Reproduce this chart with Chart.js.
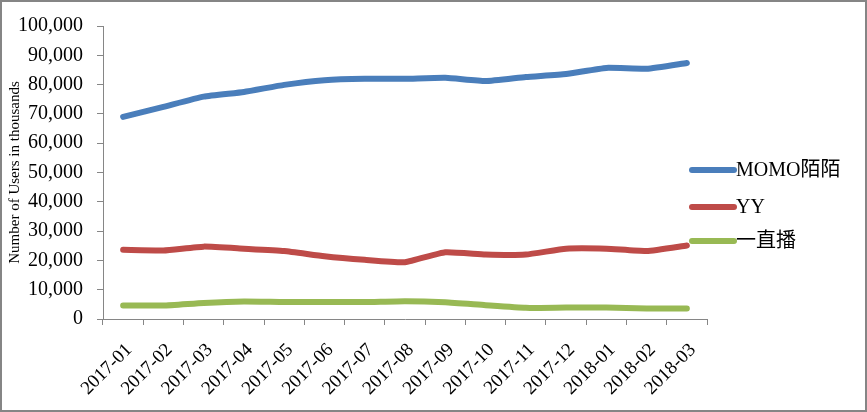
<!DOCTYPE html>
<html>
<head>
<meta charset="utf-8">
<script src="https://cdn.jsdelivr.net/npm/chart.js@4"></script>
<style>
  body { margin: 0; background: #fff; }
  #wrap { position: relative; width: 867px; height: 412px; }
  #frame { position: absolute; left: 0; top: 0; width: 867px; height: 412px; box-sizing: border-box; border: 2px solid #858585; pointer-events: none; }
</style>
</head>
<body>
<div id="wrap">
  <canvas id="usersChart" width="867" height="412"></canvas>
  <div id="frame"></div>
</div>
<script>
const months = ["2017-01", "2017-02", "2017-03", "2017-04", "2017-05", "2017-06", "2017-07", "2017-08",
                "2017-09", "2017-10", "2017-11", "2017-12", "2018-01", "2018-02", "2018-03"];
const momo = [69000, 72400, 75900, 77500, 79900, 81500, 82000, 82000, 82300, 81200, 82600, 83600, 85700, 85400, 87400];
const yy = [23600, 23400, 24700, 24000, 23200, 21400, 20200, 19400, 22800, 22000, 22000, 24000, 24000, 23200, 25100];
const yizhibo = [4600, 4600, 5500, 6000, 5800, 5800, 5800, 6100, 5700, 4700, 3800, 3900, 3900, 3600, 3600];
const yTicks = [0, 10000, 20000, 30000, 40000, 50000, 60000, 70000, 80000, 90000, 100000];

const serif = "'Liberation Serif', 'Times New Roman', 'Noto Sans CJK SC', serif";
const grey = "#868686";

// legend drawn at the right, next to the plot like the original
const sideLegend = {
    id: "sideLegend",
    afterDraw(chart) {
        const ctx = chart.ctx;
        const rows = [170, 207, 241];
        ctx.save();
        chart.data.datasets.forEach((ds, i) => {
            const y = rows[i];
            ctx.strokeStyle = ds.borderColor;
            ctx.lineWidth = 6;
            ctx.lineCap = "round";
            ctx.beginPath();
            ctx.moveTo(692, y);
            ctx.lineTo(734, y);
            ctx.stroke();
            ctx.fillStyle = "#000";
            ctx.font = "20px " + serif;
            ctx.textBaseline = "middle";
            ctx.fillText(ds.label, 736, y + 1);
        });
        ctx.restore();
    }
};

const ctx = document.getElementById("usersChart").getContext("2d");
new Chart(ctx, {
    type: "line",
    data: {
        labels: months,
        datasets: [
            { label: "MOMO陌陌", data: momo, borderColor: "#4A7EBB", backgroundColor: "#4A7EBB" },
            { label: "YY", data: yy, borderColor: "#BE4B48", backgroundColor: "#BE4B48" },
            { label: "一直播", data: yizhibo, borderColor: "#98B954", backgroundColor: "#98B954" }
        ]
    },
    options: {
        responsive: false,
        animation: false,
        layout: { padding: { top: 24, right: 160, left: 6, bottom: 0 } },
        elements: {
            line: { borderWidth: 6, tension: 0.15, borderCapStyle: "round", borderJoinStyle: "round" },
            point: { radius: 0 }
        },
        plugins: {
            legend: { display: false },
            tooltip: { enabled: false }
        },
        scales: {
            x: {
                offset: true,
                grid: { offset: true, drawOnChartArea: false, color: grey, tickLength: 6 },
                border: { color: grey },
                ticks: {
                    color: "#000",
                    font: { family: serif, size: 19 },
                    maxRotation: 45,
                    minRotation: 45,
                    padding: 14,
                    labelOffset: 6
                },
                afterFit(axis) { axis.height = 93; }
            },
            y: {
                min: 0,
                max: 100000,
                afterBuildTicks(axis) { axis.ticks = yTicks.map(v => ({ value: v })); },
                grid: { drawOnChartArea: false, color: grey, tickLength: 6 },
                border: { color: grey },
                ticks: {
                    color: "#000",
                    font: { family: serif, size: 20 },
                    padding: 14,
                    callback: v => v.toLocaleString("en-US")
                },
                title: {
                    display: true,
                    text: "Number of Users in thousands",
                    color: "#000",
                    font: { family: serif, size: 15 },
                    padding: 0
                },
                afterFit(axis) { axis.width = 97; }
            }
        }
    },
    plugins: [sideLegend]
});
</script>
</body>
</html>
